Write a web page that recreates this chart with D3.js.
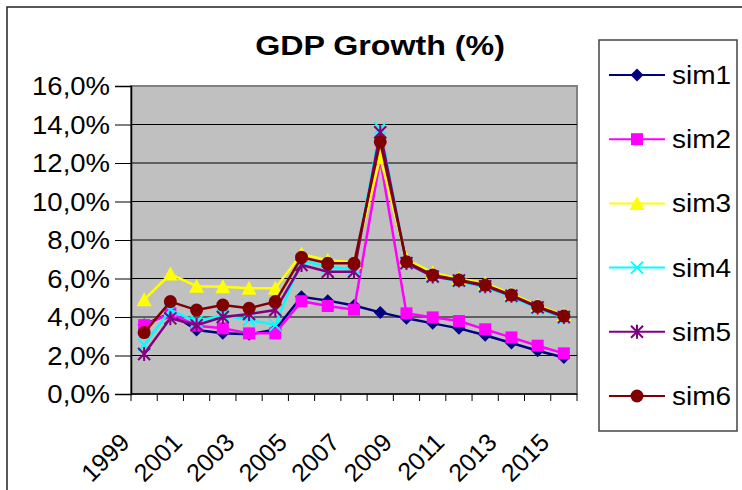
<!DOCTYPE html>
<html>
<head>
<meta charset="utf-8">
<script src="https://cdn.jsdelivr.net/npm/d3@7"></script>
<style>
  html, body { margin: 0; padding: 0; background: #fff; }
  svg { display: block; font-family: "Liberation Sans", Arial, sans-serif; }
</style>
</head>
<body>
<svg id="chart" width="742" height="490"></svg>
<script>
// Years on the category axis
const years = [1999, 2000, 2001, 2002, 2003, 2004, 2005, 2006, 2007, 2008,
               2009, 2010, 2011, 2012, 2013, 2014, 2015];
// Labels shown on the category axis (every other year)
const yearLabels = [1999, 2001, 2003, 2005, 2007, 2009, 2011, 2013, 2015];
// Value-axis ticks (%)
const yTicks = [0, 2, 4, 6, 8, 10, 12, 14, 16];

// GDP growth (%) per simulation
const sim1 = [3.6, 4.2, 3.32, 3.15, 3.1, 3.35, 5.05, 4.85, 4.6, 4.24, 3.93, 3.67, 3.41, 3.05, 2.65, 2.25, 1.9];
const sim2 = [3.58, 4.19, 3.55, 3.41, 3.15, 3.15, 4.82, 4.57, 4.38, 12.2, 4.19, 3.98, 3.79, 3.36, 2.94, 2.51, 2.11];
const sim3 = [4.9, 6.23, 5.6, 5.57, 5.49, 5.49, 7.27, 6.95, 6.85, 12.28, 7.0, 6.3, 6.0, 5.75, 5.2, 4.6, 4.1];
const sim4 = [2.55, 4.36, 3.76, 4.1, 3.84, 3.58, 6.95, 6.6, 6.5, 13.8, 6.8, 6.1, 5.85, 5.55, 5.05, 4.45, 3.95];
const sim5 = [2.08, 3.93, 3.58, 4.0, 4.16, 4.36, 6.7, 6.35, 6.35, 13.6, 6.8, 6.1, 5.9, 5.6, 5.1, 4.5, 4.0];
const sim6 = [3.19, 4.8, 4.36, 4.62, 4.45, 4.8, 7.1, 6.79, 6.79, 13.1, 6.87, 6.18, 5.92, 5.66, 5.14, 4.54, 4.05];

const seriesNames = ["sim1", "sim2", "sim3", "sim4", "sim5", "sim6"];
const seriesValues = [sim1, sim2, sim3, sim4, sim5, sim6];
const seriesColors = ["#000080", "#FF00FF", "#FFFF00", "#00FFFF", "#800080", "#800000"];
const seriesMarkers = ["diamond", "square", "triangle", "cross", "star", "circle"];

const svg = d3.select("#chart");

// Outer chart frame
svg.append("rect")
  .attr("x", 7).attr("y", 7).attr("width", 760).attr("height", 510)
  .attr("fill", "#fff").attr("stroke", "#222").attr("stroke-width", 1.5);

const plot = { left: 131, right: 577, top: 86, bottom: 394 };

const x = d3.scaleBand().domain(years).range([plot.left, plot.right]).padding(0);
const y = d3.scaleLinear().domain([0, 16]).range([plot.bottom, plot.top]);
const cx = d => x(d) + x.bandwidth() / 2;

// Plot background
svg.append("rect")
  .attr("x", plot.left).attr("y", plot.top)
  .attr("width", plot.right - plot.left).attr("height", plot.bottom - plot.top)
  .attr("fill", "#C0C0C0").attr("stroke", "#808080").attr("stroke-width", 2);

// Horizontal gridlines
svg.append("g").selectAll("line")
  .data(yTicks.filter(t => t > 0 && t < 16))
  .join("line")
  .attr("x1", plot.left).attr("x2", plot.right)
  .attr("y1", d => y(d)).attr("y2", d => y(d))
  .attr("stroke", "#000").attr("stroke-width", 1);

// Value axis
const yAxis = svg.append("g").attr("transform", `translate(${plot.left},0)`)
  .call(d3.axisLeft(y).tickValues(yTicks).tickSize(16).tickFormat(""));
yAxis.select(".domain").attr("stroke", "#000").attr("stroke-width", 1.5);
yAxis.selectAll(".tick line").attr("stroke", "#000");

const fmt = d => d.toFixed(1).replace(".", ",") + "%";
svg.append("g").selectAll("text")
  .data(yTicks)
  .join("text")
  .attr("transform", d => `translate(110,${y(d) + 9}) scale(1.1,1)`)
  .attr("text-anchor", "end")
  .attr("font-size", 25)
  .attr("fill", "#000")
  .text(fmt);

// Category axis with ticks on the band boundaries
const bounds = years.map(d => x(d)).concat([plot.right]);
svg.append("line")
  .attr("x1", plot.left).attr("x2", plot.right)
  .attr("y1", plot.bottom).attr("y2", plot.bottom)
  .attr("stroke", "#000").attr("stroke-width", 1.5);
svg.append("g").selectAll("line")
  .data(bounds)
  .join("line")
  .attr("x1", d => d).attr("x2", d => d)
  .attr("y1", plot.bottom).attr("y2", plot.bottom + 7)
  .attr("stroke", "#000");

svg.append("g").selectAll("text")
  .data(yearLabels)
  .join("text")
  .attr("transform", d => `translate(${cx(d) - 13},${plot.bottom + 50}) rotate(-45)`)
  .attr("text-anchor", "end")
  .attr("font-size", 25)
  .attr("fill", "#000")
  .text(d => d);

// Title
svg.append("text")
  .attr("transform", "translate(380,55) scale(1.15,1)")
  .attr("text-anchor", "middle")
  .attr("font-size", 28)
  .attr("font-weight", "bold")
  .attr("fill", "#000")
  .text("GDP Growth (%)");

// Marker drawing
function drawMarker(g, type, color) {
  switch (type) {
    case "diamond":
      g.append("path").attr("d", "M0,-6.5L6.5,0L0,6.5L-6.5,0Z").attr("fill", color);
      break;
    case "square":
      g.append("rect").attr("x", -6).attr("y", -6).attr("width", 12).attr("height", 12).attr("fill", color);
      break;
    case "triangle":
      g.append("path").attr("d", "M0,-7.5L7.5,6.5L-7.5,6.5Z").attr("fill", color);
      break;
    case "cross":
      g.append("path").attr("d", "M-6,-6L6,6M-6,6L6,-6").attr("stroke", color).attr("stroke-width", 2).attr("fill", "none");
      break;
    case "star":
      g.append("path").attr("d", "M-6,-6L6,6M-6,6L6,-6M0,-7L0,7").attr("stroke", color).attr("stroke-width", 2).attr("fill", "none");
      break;
    case "circle":
      g.append("circle").attr("r", 6.5).attr("fill", color);
      break;
  }
}

const line = d3.line().x((d, i) => cx(years[i])).y(d => y(d));

seriesValues.forEach((vals, s) => {
  const g = svg.append("g");
  g.append("path")
    .attr("d", line(vals))
    .attr("fill", "none")
    .attr("stroke", seriesColors[s])
    .attr("stroke-width", 2.5);
  vals.forEach((v, i) => {
    const m = g.append("g").attr("transform", `translate(${cx(years[i])},${y(v)})`);
    drawMarker(m, seriesMarkers[s], seriesColors[s]);
  });
});

// Legend
const legend = { x: 599, y: 40, w: 138, h: 391 };
svg.append("rect")
  .attr("x", legend.x).attr("y", legend.y).attr("width", legend.w).attr("height", legend.h)
  .attr("fill", "#fff").attr("stroke", "#444").attr("stroke-width", 1.5);

seriesNames.forEach((name, s) => {
  const ry = 75 + s * 64.2;
  const g = svg.append("g");
  g.append("line")
    .attr("x1", 609).attr("x2", 665).attr("y1", ry).attr("y2", ry)
    .attr("stroke", seriesColors[s]).attr("stroke-width", 2);
  const m = g.append("g").attr("transform", `translate(637,${ry})`);
  drawMarker(m, seriesMarkers[s], seriesColors[s]);
  g.append("text")
    .attr("transform", `translate(672,${ry + 9}) scale(1.12,1)`)
    .attr("font-size", 25)
    .attr("fill", "#000")
    .text(name);
});
</script>
</body>
</html>
